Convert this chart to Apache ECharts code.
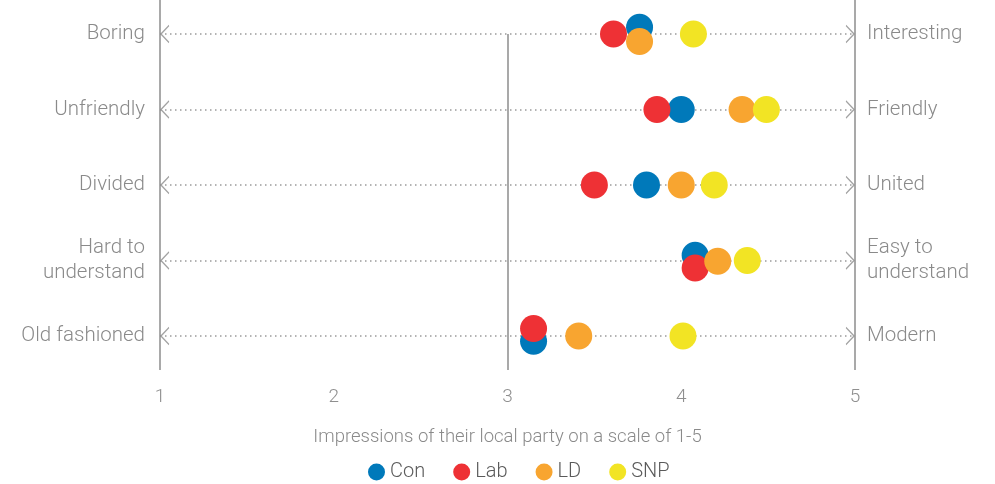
<!DOCTYPE html>
<html>
<head>
<meta charset="utf-8">
<script src="https://cdn.jsdelivr.net/npm/echarts@6/dist/echarts.min.js"></script>
<style>
html,body{margin:0;padding:0;background:#fff;}
#chart{width:995px;height:484px;}
</style>
</head>
<body>
<div id="chart"></div>
<script>
// Rows from top to bottom (row value 5 = top)
var leftLabels = ['Boring', 'Unfriendly', 'Divided', 'Hard to\nunderstand', 'Old fashioned'];
var rightLabels = ['Interesting', 'Friendly', 'United', 'Easy to\nunderstand', 'Modern'];
var rowValues = [5, 4, 3, 2, 1];

var seriesNames = ['Con', 'Lab', 'LD', 'SNP'];
var colors = ['#0079BA', '#EE3135', '#F8A530', '#F2E424'];

// Scores (1-5) per row, top to bottom
var con = [3.76, 4.00, 3.80, 4.08, 3.15];
var lab = [3.61, 3.86, 3.50, 4.08, 3.15];
var ld  = [3.76, 4.35, 4.00, 4.21, 3.41];
var snp = [4.07, 4.49, 4.19, 4.38, 4.01];

// small vertical nudges used in the original to show overlapping dots
var conShift = [0.09, 0, 0, 0.07, -0.07];
var labShift = [0, 0, 0, -0.10, 0.10];
var ldShift  = [-0.10, 0, 0, -0.01, 0];
var snpShift = [0, 0, 0, 0, 0];

var xTicks = [1, 2, 3, 4, 5];

var values = [con, lab, ld, snp];
var shifts = [conShift, labShift, ldShift, snpShift];

var FONT = 'Roboto';
var textGray = '#8a8a8a';

function labelFor(arr) {
  return function (v) {
    var r = Math.round(v);
    if (Math.abs(v - r) > 1e-6) return '';
    var i = rowValues.indexOf(r);
    return i >= 0 ? arr[i] : '';
  };
}

var chart = echarts.init(document.getElementById('chart'), null, {renderer: 'canvas'});

var rowLineData = rowValues.map(function (r) {
  return [{coord: [1, r]}, {coord: [5, r]}];
});

var arrowLeft = rowValues.map(function (r) { return [1, r]; });
var arrowRight = rowValues.map(function (r) { return [5, r]; });

var series = [
  {
    type: 'scatter',
    name: '_rows',
    data: [],
    silent: true,
    markLine: {
      silent: true,
      symbol: ['none', 'none'],
      label: {show: false},
      lineStyle: {color: '#9a9a9a', type: [1.5, 3.5], width: 1.5},
      data: rowLineData
    }
  },
  {
    type: 'scatter',
    name: '_vlines',
    data: [],
    silent: true,
    markLine: {
      silent: true,
      symbol: ['none', 'none'],
      label: {show: false},
      lineStyle: {color: '#8c8c8c', type: 'solid', width: 1.5},
      data: [
        [{coord: [1, 5.45]}, {coord: [1, 0.55]}],
        [{coord: [3, 5]}, {coord: [3, 0.55]}],
        [{coord: [5, 5.45]}, {coord: [5, 0.55]}]
      ]
    }
  },
  {
    type: 'scatter',
    name: '_arrowL',
    silent: true,
    data: arrowLeft,
    symbol: 'path://M10,0 L0,10 L10,20',
    symbolSize: [8, 17],
    symbolOffset: [5, 0],
    itemStyle: {color: 'none', borderColor: '#8c8c8c', borderWidth: 1.3},
    z: 1
  },
  {
    type: 'scatter',
    name: '_arrowR',
    silent: true,
    data: arrowRight,
    symbol: 'path://M0,0 L10,10 L0,20',
    symbolSize: [8, 17],
    symbolOffset: [-5, 0],
    itemStyle: {color: 'none', borderColor: '#8c8c8c', borderWidth: 1.3},
    z: 1
  }
];

var zOrder = {Con: 5, Lab: 7, LD: 8, SNP: 9};
seriesNames.forEach(function (name, k) {
  series.push({
    type: 'scatter',
    name: name,
    symbol: 'circle',
    symbolSize: 27,
    itemStyle: {color: colors[k], opacity: 1},
    z: zOrder[name],
    data: values[k].map(function (v, i) {
      return [v, rowValues[i] + shifts[k][i]];
    })
  });
});

chart.setOption({
  animation: false,
  backgroundColor: '#ffffff',
  textStyle: {fontFamily: FONT},
  grid: {left: 160, right: 140, top: 0, height: 370, containLabel: false},
  xAxis: {
    type: 'value',
    min: 1, max: 5, interval: 1,
    axisLine: {show: false},
    axisTick: {show: false},
    splitLine: {show: false},
    axisLabel: {
      color: '#8f8f8f', fontSize: 19, fontFamily: FONT, fontWeight: 300, margin: 18,
      formatter: function (v) { return xTicks.indexOf(v) >= 0 ? String(v) : ''; }
    },
    name: 'Impressions of their local party on a scale of 1-5',
    nameLocation: 'middle',
    nameGap: 58,
    nameTextStyle: {color: '#8a8a8a', fontSize: 18.5, fontFamily: FONT, fontWeight: 300}
  },
  yAxis: [
    {
      type: 'value', min: 0.55, max: 5.45, position: 'left',
      axisLine: {show: false}, axisTick: {show: false}, splitLine: {show: false},
      axisLabel: {
        color: textGray, fontSize: 20.5, fontFamily: FONT, fontWeight: 300, margin: 15,
        lineHeight: 25, align: 'right',
        formatter: labelFor(leftLabels)
      }
    },
    {
      type: 'value', min: 0.55, max: 5.45, position: 'right',
      axisLine: {show: false}, axisTick: {show: false}, splitLine: {show: false},
      axisLabel: {
        color: textGray, fontSize: 20.5, fontFamily: FONT, fontWeight: 300, margin: 12,
        lineHeight: 25, align: 'left',
        formatter: labelFor(rightLabels)
      }
    }
  ],
  legend: {
    data: seriesNames,
    top: 457,
    left: 363,
    icon: 'circle',
    itemWidth: 17,
    itemHeight: 17,
    itemGap: 28,
    textStyle: {color: '#5a5a5a', fontSize: 20, fontFamily: FONT, fontWeight: 300}
  },
  series: series
});
</script>
</body>
</html>
